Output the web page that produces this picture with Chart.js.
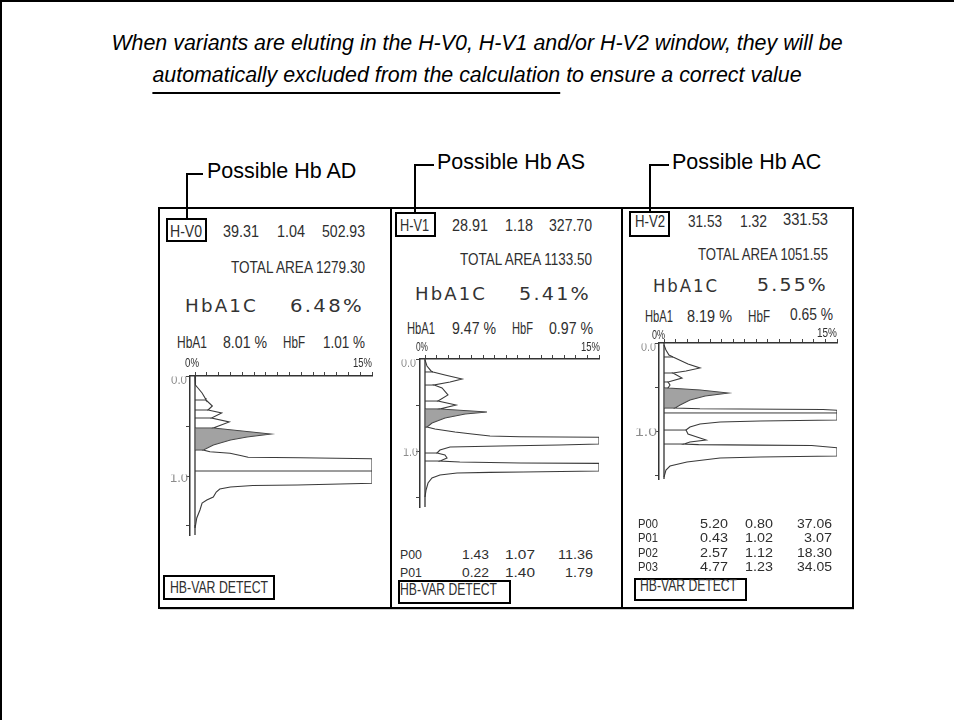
<!DOCTYPE html>
<html>
<head>
<meta charset="utf-8">
<title>HbA1c variant windows</title>
<script src="https://cdn.jsdelivr.net/npm/chart.js@4.4.1/dist/chart.umd.min.js"></script>
<style>
  html, body { margin:0; padding:0; background:#fff; }
  body { width:954px; height:720px; position:relative; overflow:hidden; font-family:"Liberation Sans", Arial, sans-serif; }
  .line { position:absolute; background:#000; }
  .box { position:absolute; border:2px solid #000; box-sizing:border-box; }
  .title { position:absolute; left:0; width:954px; text-align:center; font-style:italic; font-size:21.4px; line-height:24px; color:#000; white-space:nowrap; }
  .title u { text-decoration-thickness:2px; text-underline-offset:10px; }
  .callout { position:absolute; font-size:21.5px; line-height:1; color:#000; white-space:nowrap; }
  .pt { position:absolute; white-space:pre; line-height:1; font-family:"Liberation Sans Narrow","Liberation Sans",Arial,sans-serif; font-size:16px; color:#2e2e2e; transform-origin:0 50%; }
  .pt.wide { font-family:"DejaVu Sans",sans-serif; font-size:17px; letter-spacing:2px; color:#333; }
  .pt.dim { color:#8c8c8c; font-size:13px; clip-path:inset(30% 0 0 0); }
  .pt.tbl { font-size:12.8px; line-height:0.85; }
  .pt.scale { font-size:13px; }
  canvas { position:absolute; }
</style>
</head>
<body>
<div class="line" style="left:0;top:0;width:954px;height:2px"></div>
<div class="line" style="left:0;top:0;width:2px;height:720px"></div>

<div class="title" style="top:31px">When variants are eluting in the H-V0, H-V1 and/or H-V2 window, they will be</div>
<div class="title" style="top:63px"><u>automatically excluded from the calculation</u> to ensure a correct value</div>

<!-- report frame -->
<div class="box" style="left:158px;top:207px;width:696px;height:402px"></div>
<div class="line" style="left:390px;top:207px;width:2px;height:402px"></div>
<div class="line" style="left:621px;top:207px;width:2px;height:402px"></div>
<div class="line" style="left:160px;top:609px;width:694px;height:1px;background:#cfcfcf"></div>

<canvas id="chartAD"></canvas>
<canvas id="chartAS"></canvas>
<canvas id="chartAC"></canvas>

<script>
// ---- values printed on the three reports ----
const windowCodes  = ['H-V0', 'H-V1', 'H-V2'];
const variantNames = ['Possible Hb AD', 'Possible Hb AS', 'Possible Hb AC'];
const windowPct    = ['39.31', '28.91', '31.53'];
const windowTime   = ['1.04', '1.18', '1.32'];
const windowArea   = ['502.93', '327.70', '331.53'];
const totalArea    = ['1279.30', '1133.50', '1051.55'];
const hba1c        = ['6.48%', '5.41%', '5.55%'];
const hba1         = ['8.01 %', '9.47 %', '8.19 %'];
const hbf          = ['1.01 %', '0.97 %', '0.65 %'];

const peakNamesAS = ['P00', 'P01'];
const peakPctAS   = ['1.43', '0.22'];
const peakTimeAS  = ['1.07', '1.40'];
const peakAreaAS  = ['11.36', '1.79'];

const peakNamesAC = ['P00', 'P01', 'P02', 'P03'];
const peakPctAC   = ['5.20', '0.43', '2.57', '4.77'];
const peakTimeAC  = ['0.80', '1.02', '1.12', '1.23'];
const peakAreaAC  = ['37.06', '3.07', '18.30', '34.05'];

// ---- chromatogram traces: retention time (min) and signal (% of full scale, 15 = pen limit) ----
const timeAD   = [0.00,0.05,0.09,0.12,0.17,0.22,0.24,0.30,0.34,0.37,0.42,0.46,0.52,0.58,0.61,0.64,0.69,0.74,0.757,0.773,0.797,0.813,0.817,0.827,1.073,1.08,1.09,1.095,1.11,1.13,1.16,1.21,1.24,1.27,1.34,1.42,1.49,1.52];
const signalAD = [0,   0.02,0.06,0.25,0.6, 0.85,0.93,1.47,1.1, 2.26,1.4, 2.9, 1.55,6.4, 4.4, 3.0, 1.55,0.7, 1.27, 2.97, 3.95, 4.5, 8.9,  15,   15,   12.3,8.7, 4.9,  3.0, 2.1, 1.8, 1.55,1.0, 0.6, 0.42,0.15,0.05,0];
const shadeAD    = [0.52, 0.74];
const dropTimeAD = [0.24, 0.34, 0.42, 0.52, 0.74, 0.95];
const dropSigAD  = [0.93, 1.1, 1.4, 1.55, 0.7, 15];

const timeAS   = [0.01,0.076,0.13,0.141,0.174,0.217,0.25,0.283,0.315,0.391,0.457,0.5,0.543,0.576,0.598,0.641,0.696,0.739,0.761,0.793,0.815,0.837,0.845,0.85,0.924,0.935,0.946,0.957,0.989,1.022,1.043,1.076,1.109,1.12,1.13,1.135,1.217,1.228,1.232,1.239,1.261,1.293,1.348,1.424,1.5];
const signalAS = [0,   0.17, 0.52,0.69, 1.72, 3.19, 2.16,0.78, 1.47, 1.98, 1.12, 2.67,1.29,5.34, 3.45, 1.72, 0.6, 0.17, 0.86, 2.59, 4.05, 5.6, 8.19, 15,  15,   11.6, 6.47, 2.16, 1.29, 1.03, 1.72, 1.9, 1.29, 3.0, 8.19,15,   15,   8.45, 5.6, 2.76, 1.29, 0.6, 0.26, 0.09, 0];
const shadeAS    = [0.543, 0.739];
const dropTimeAS = [0.141, 0.283, 0.457, 0.543, 0.739, 1.022, 1.109];
const dropSigAS  = [0.69, 0.78, 1.12, 1.29, 0.17, 1.03, 1.29];

const timeAC   = [0.023,0.08,0.136,0.159,0.239,0.284,0.318,0.341,0.398,0.443,0.477,0.511,0.534,0.568,0.602,0.648,0.705,0.739,0.748,0.752,0.755,0.765,0.875,0.886,0.898,0.92,0.955,0.989,1.034,1.08,1.102,1.125,1.148,1.155,1.16,1.165,1.19,1.284,1.295,1.307,1.352,1.398,1.443,1.523];
const signalAC = [0,    0.17,0.43, 0.78, 2.08, 3.12, 1.91, 0.78, 1.56, 0.35, 0.52, 0.35, 3.12, 5.55, 3.56, 2.25, 1.39, 0.95, 3.12, 10.06,13.79,15,  15,   8.33, 4.86, 3.12,2.25, 1.91, 2.08, 3.12,3.64, 2.25, 1.73, 3.0,  8.0, 12.8, 15,  15,   8.33, 4.86, 1.99, 0.52, 0.17, 0];
const shadeAC    = [0.511, 0.739];
const dropTimeAC = [0.159, 0.341, 0.443, 0.511, 0.739, 0.795, 0.989, 1.148];
const dropSigAC  = [0.78, 0.78, 0.35, 0.35, 0.95, 15, 1.91, 1.73];

const timeTicks   = [0, 0.5, 1.0, 1.5];
const signalTicks = [0,1,2,3,4,5,6,7,8,9,10,11,12,13,14,15];

// ---- page geometry (pixels) ----
const calloutGeom = [
  { vx:186, hy:173, bottom:218, hx2:203, textX:207, textY:172 },
  { vx:414, hy:164, bottom:212, hx2:434, textX:437, textY:163 },
  { vx:649, hy:164, bottom:211, hx2:669, textX:672, textY:163 }
];
const axisGeom = [
  { ax:190, base:195, full:372, top:376, bottom:535, ppm:100 },
  { ax:420, base:425, full:599, top:359, bottom:507, ppm:92 },
  { ax:659, base:664, full:837, top:343, bottom:479, ppm:88 }
];
const textGeom = [
  { codeBox:[166,218,41,24], code:[170,202,232],
    row:[[223,259,232],[277,305,232],[322,365,232]],
    total:[231,365,268], a1c:[185,258,306], a1cVal:[290,364,306],
    a1:[[177,207,343],[223,267,343],[283,305,343],[323,365,343]],
    zero:[185,199,362], fifteen:[353,372,362], lab0:[171,187,379], lab1:[170,188,477],
    varBox:[163,575,112,25], varText:[170,268,588] },
  { codeBox:[395,212,41,25], code:[400,429,226],
    row:[[452,488,226],[505,533,226],[549,592,226]],
    total:[460,592,260], a1c:[415,487,294], a1cVal:[519,591,294],
    a1:[[407,435,329],[452,496,329],[512,533,329],[549,593,329]],
    zero:[416,428,346], fifteen:[581,600,346], lab0:[401,416,362], lab1:[403,418,451],
    varBox:[398,580,113,24], varText:[400,497,590] },
  { codeBox:[629,211,41,26], code:[635,665,222],
    row:[[688,722,222],[740,767,222],[783,828,220]],
    total:[698,828,255], a1c:[653,719,286], a1cVal:[757,828,285],
    a1:[[645,673,317],[687,732,317],[748,770,317],[790,833,315]],
    zero:[652,665,334], fifteen:[817,837,332], lab0:[641,656,346], lab1:[635,657,431],
    varBox:[634,578,113,23], varText:[640,737,586] }
];
const peakGeomAS = { rows:[555,573], cols:[[400,422],[462,489],[505,535],[558,593]] };
const peakGeomAC = { rows:[523.5,538,552.5,567], cols:[[638,658],[700,728],[745,773],[797,832]] };

// ---- helpers ----
function addDiv(cls, style, text) {
  const d = document.createElement('div');
  d.className = cls;
  Object.assign(d.style, style);
  if (text !== undefined) d.textContent = text;
  document.body.appendChild(d);
  return d;
}
// printer text stretched between a left and a right edge, centred on y
function printed(str, geom, extra) {
  const [x1, x2, y] = geom;
  const d = addDiv('pt' + (extra ? ' ' + extra : ''), { left: x1 + 'px', top: y + 'px' }, str);
  const w = d.getBoundingClientRect().width || 1;
  d.style.transform = 'translateY(-50%) scaleX(' + ((x2 - x1) / w).toFixed(4) + ')';
  return d;
}
function rect(cls, [x, y, w, h]) {
  return addDiv(cls, { left: x + 'px', top: y + 'px', width: w + 'px', height: h + 'px' });
}

// ---- callouts above the reports ----
calloutGeom.forEach((g, i) => {
  addDiv('line', { left: g.vx + 'px', top: g.hy + 'px', width: '1.5px', height: (g.bottom - g.hy) + 'px' });
  addDiv('line', { left: g.vx + 'px', top: g.hy + 'px', width: (g.hx2 - g.vx) + 'px', height: '1.5px' });
  const t = addDiv('callout', { left: g.textX + 'px', top: g.textY + 'px' }, variantNames[i]);
  t.style.transform = 'translateY(-50%)';
});

// ---- report header text ----
textGeom.forEach((g, i) => {
  rect('box', g.codeBox);
  printed(windowCodes[i], g.code);
  printed(windowPct[i], g.row[0]);
  printed(windowTime[i], g.row[1]);
  printed(windowArea[i], g.row[2]);
  printed('TOTAL AREA ' + totalArea[i], g.total);
  printed('HbA1C', g.a1c, 'wide');
  printed(hba1c[i], g.a1cVal, 'wide');
  printed('HbA1', g.a1[0]);
  printed(hba1[i], g.a1[1]);
  printed('HbF', g.a1[2]);
  printed(hbf[i], g.a1[3]);
  printed('0%', g.zero, 'scale');
  printed('15%', g.fifteen, 'scale');
  printed('0.0', g.lab0, 'dim');
  printed('1.0', g.lab1, 'dim');
  rect('box', g.varBox);
  printed('HB-VAR DETECT', g.varText);
});

function peakTable(geom, names, pct, time, area) {
  names.forEach((n, r) => {
    const y = geom.rows[r];
    const cells = [n, pct[r], time[r], area[r]];
    cells.forEach((c, k) => {
      const [x1, x2] = geom.cols[k];
      // numbers are right aligned in fixed-width printer cells
      const cellW = (x2 - x1) / (k === 0 ? 3 : (k === 3 ? 5 : 4));
      const left = k === 0 ? x1 : x2 - cellW * c.length;
      printed(c, [left, x2, y], 'tbl');
    });
  });
}
peakTable(peakGeomAS, peakNamesAS, peakPctAS, peakTimeAS, peakAreaAS);
peakTable(peakGeomAC, peakNamesAC, peakPctAC, peakTimeAC, peakAreaAC);

// ---- chromatograms ----
const INK = '#3a3a3a';
function chromatogram(id, g, time, signal, shade, dropT, dropS) {
  const pad = 8;
  const pxPct = (g.full - g.base) / 15;
  const xMin = -(g.base - g.ax) / pxPct;
  const tMax = (g.bottom - g.top) / g.ppm;
  const cv = document.getElementById(id);
  cv.width = (g.full - g.ax) + pad + 4;
  cv.height = (g.bottom - g.top) + pad + 4;
  cv.style.width = cv.width + 'px';
  cv.style.height = cv.height + 'px';
  cv.style.left = (g.ax - pad) + 'px';
  cv.style.top = (g.top - pad) + 'px';

  const trace = time.map((t, i) => ({ x: signal[i], y: t }));
  const shaded = trace.filter(p => p.y >= shade[0] - 1e-6 && p.y <= shade[1] + 1e-6);
  const line = (data, extra) => Object.assign({
    data, showLine: true, borderColor: INK, borderWidth: 1.1, pointRadius: 0, fill: false
  }, extra || {});

  const datasets = [
    line(shaded, { fill: 'origin', backgroundColor: 'rgba(105,105,105,0.62)', borderColor: 'rgba(0,0,0,0)' }),
    line([{ x: 0, y: 0 }, { x: 0, y: tMax }], { borderWidth: 1.3, borderColor: '#333' }),
    line(trace)
  ];
  dropT.forEach((t, i) => datasets.push(line([{ x: 0, y: t }, { x: dropS[i], y: t }], { borderWidth: 1 })));

  const gridOpts = { drawOnChartArea: false, drawTicks: true, tickLength: 4, color: '#444', lineWidth: 1 };
  return new Chart(cv, {
    type: 'scatter',
    data: { datasets },
    options: {
      indexAxis: 'y',
      responsive: false,
      animation: false,
      devicePixelRatio: 1,
      events: [],
      layout: { padding: { left: 0, top: 0, right: 4, bottom: 4 } },
      plugins: { legend: { display: false }, tooltip: { enabled: false } },
      scales: {
        x: {
          type: 'linear', position: 'top', min: xMin, max: 15,
          grid: gridOpts, border: { display: true, color: '#333', width: 1.5 },
          ticks: { display: false },
          afterBuildTicks: s => { s.ticks = signalTicks.map(v => ({ value: v })); },
          afterFit: s => { s.height = pad; }
        },
        y: {
          type: 'linear', position: 'left', reverse: true, min: 0, max: tMax,
          grid: gridOpts, border: { display: true, color: '#333', width: 1.5 },
          ticks: { display: false },
          afterBuildTicks: s => { s.ticks = timeTicks.filter(v => v <= tMax).map(v => ({ value: v })); },
          afterFit: s => { s.width = pad; }
        }
      }
    }
  });
}

chromatogram('chartAD', axisGeom[0], timeAD, signalAD, shadeAD, dropTimeAD, dropSigAD);
chromatogram('chartAS', axisGeom[1], timeAS, signalAS, shadeAS, dropTimeAS, dropSigAS);
chromatogram('chartAC', axisGeom[2], timeAC, signalAC, shadeAC, dropTimeAC, dropSigAC);
</script>
</body>
</html>
